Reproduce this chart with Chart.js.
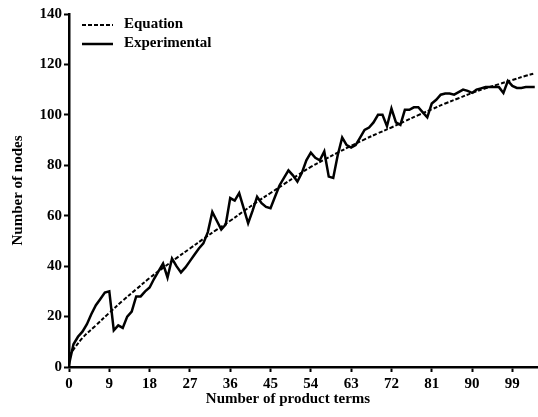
<!DOCTYPE html>
<html>
<head>
<meta charset="utf-8">
<script src="https://cdn.jsdelivr.net/npm/chart.js@4.4.1/dist/chart.umd.min.js"></script>
<style>
  html, body { margin: 0; padding: 0; background: #ffffff; }
  #wrap { width: 538px; height: 417px; }
</style>
</head>
<body>
<div id="wrap"><canvas id="c" width="538" height="417"></canvas></div>
<script>
// ---- data ----
const xTicks = [0, 9, 18, 27, 36, 45, 54, 63, 72, 81, 90, 99];
const yTicks = [0, 20, 40, 60, 80, 100, 120, 140];

const equationX = [0, 3, 6, 9, 12, 15, 18, 21, 24, 27, 30, 33, 36, 39, 42, 45, 48, 51, 54, 57, 60, 63, 66, 69, 72, 75, 78, 81, 84, 87, 90, 93, 96, 99, 102, 104];
const equationY = [4.5, 11.5, 16.5, 21.5, 26.3, 30.8, 35.3, 39.3, 43.2, 47, 50.8, 54.5, 58, 61.8, 65.5, 69, 72.5, 76, 79.4, 82.2, 85, 87.7, 90.3, 92.7, 95, 97.5, 99.9, 102.2, 104.5, 106.6, 108.7, 110.5, 112.2, 113.8, 115.5, 116.5];

const experimentalY = [
  1, 9, 12, 14, 17, 21, 24.5, 27, 29.5, 30,
  14.5, 16.5, 15.5, 20, 22, 28, 28, 30, 31.5, 35,
  38, 41, 35.5, 43, 40, 37.5, 39.5, 42, 44.5, 47,
  49, 53.5, 61.5, 58, 54.5, 56.5, 67, 66, 69, 63,
  57, 62, 67.5, 65, 63.5, 63, 67.5, 72, 75, 78,
  76, 73.5, 77, 82, 85, 83, 82, 85.5, 75.5, 75,
  84, 91, 88, 87, 88, 91, 94, 95, 97, 100,
  100, 95.5, 102.5, 97, 96, 102, 102, 103, 103, 101,
  99, 104.5, 106, 108, 108.5, 108.5, 108, 109, 110, 109.5,
  108.7, 110, 110.5, 111, 111, 111, 111, 108.7, 113.5, 111.5,
  110.7, 110.7, 111, 111, 111
];
const experimentalX = experimentalY.map((_, i) => i);

const seriesLabels = ['Equation', 'Experimental'];
const xTitle = 'Number of product terms';
const yTitle = 'Number of nodes';

// ---- chart ----
const FONT = "'Liberation Serif', 'Times New Roman', serif";
const tickFont = { family: FONT, size: 15, weight: 'bold' };

const insetLegend = {
  id: 'insetLegend',
  afterDatasetsDraw(chart) {
    const ctx = chart.ctx;
    const ds = chart.data.datasets;
    const x0 = chart.chartArea.left + 13;
    const len = 31;
    const rows = [25, 44];
    ctx.save();
    ds.forEach((d, i) => {
      const y = rows[i];
      ctx.beginPath();
      ctx.setLineDash(d.borderDash || []);
      ctx.lineWidth = d.borderWidth;
      ctx.strokeStyle = d.borderColor;
      ctx.moveTo(x0, y);
      ctx.lineTo(x0 + len, y);
      ctx.stroke();
      ctx.setLineDash([]);
      ctx.fillStyle = '#000';
      ctx.font = 'bold 15px ' + FONT;
      ctx.textBaseline = 'middle';
      ctx.textAlign = 'left';
      ctx.fillText(d.label, x0 + len + 11, y - 1);
    });
    ctx.restore();
  }
};

new Chart(document.getElementById('c'), {
  type: 'line',
  data: {
    datasets: [
      {
        label: seriesLabels[0],
        data: equationX.map((x, i) => ({ x: x, y: equationY[i] })),
        borderColor: '#000',
        borderWidth: 2,
        borderDash: [4, 2],
        pointRadius: 0,
        tension: 0.4,
        fill: false
      },
      {
        label: seriesLabels[1],
        data: experimentalX.map((x, i) => ({ x: x, y: experimentalY[i] })),
        borderColor: '#000',
        borderWidth: 2.5,
        pointRadius: 0,
        tension: 0,
        fill: false
      }
    ]
  },
  options: {
    responsive: false,
    animation: false,
    devicePixelRatio: 1,
    layout: { padding: { top: 14, right: 1, bottom: 0, left: 0 } },
    plugins: {
      legend: { display: false },
      tooltip: { enabled: false }
    },
    scales: {
      x: {
        type: 'linear',
        min: 0,
        max: 104.5,
        afterBuildTicks: (s) => { s.ticks = xTicks.map(v => ({ value: v })); },
        afterFit: (s) => { s.height = 50; },
        grid: { display: true, drawOnChartArea: false, drawTicks: true, tickLength: 5, tickWidth: 2, tickColor: '#000' },
        border: { display: true, color: '#000', width: 2.5 },
        ticks: { color: '#000', font: tickFont, padding: 3, maxRotation: 0, autoSkip: false },
        title: { display: true, text: xTitle + '        ', color: '#000', font: tickFont, padding: { top: 0, bottom: 9 } }
      },
      y: {
        type: 'linear',
        min: 0,
        max: 140,
        afterBuildTicks: (s) => { s.ticks = yTicks.map(v => ({ value: v })); },
        afterFit: (s) => { s.width = 69; },
        grid: { display: true, drawOnChartArea: false, drawTicks: true, tickLength: 5, tickWidth: 2, tickColor: '#000' },
        border: { display: true, color: '#000', width: 2.5 },
        ticks: { color: '#000', font: tickFont, padding: 2 },
        title: { display: true, text: yTitle, color: '#000', font: tickFont, padding: { top: 9, bottom: 0 } }
      }
    }
  },
  plugins: [insetLegend]
});
</script>
</body>
</html>
